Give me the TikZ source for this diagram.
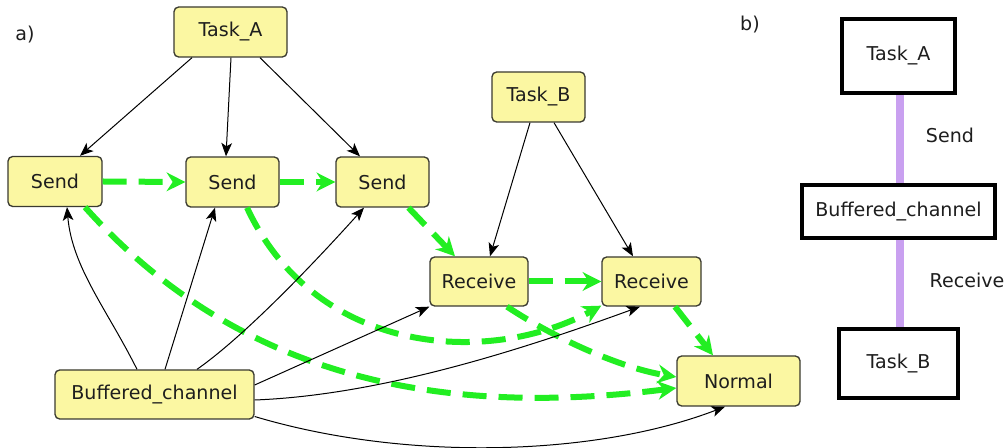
\documentclass[tikz,border=0pt]{standalone}
\usepackage{fontspec}
\setmainfont{DejaVu Sans}
\usetikzlibrary{arrows.meta,calc}
\definecolor{boxfill}{HTML}{FBF7A2}
\definecolor{boxline}{HTML}{3A3A30}
\definecolor{flow}{HTML}{22EE22}
\definecolor{lavline}{HTML}{C9A0F0}
\definecolor{txt}{HTML}{1E1E1E}
\begin{document}
\begin{tikzpicture}[x=0.75pt,y=-0.75pt,
  every node/.style={font=\fontsize{14.3}{17}\selectfont, text=txt},
  ybox/.style={draw=boxline, fill=boxfill, line width=1pt, rounded corners=3.5pt, inner sep=0pt},
  wbox/.style={draw=black, fill=white, line width=3pt, inner sep=0pt},
  blk/.style={draw=black, line width=0.75pt, -{Stealth[length=10pt,width=8pt,inset=2.5pt]}},
  grn/.style={draw=flow, line width=4.5pt, dash pattern=on 18pt off 9pt, -{Stealth[length=14pt,width=14pt,inset=4.5pt]}},
  purpleline/.style={draw=lavline, line width=6.5pt}]
\useasboundingbox (0,0) rectangle (1004,448);
% labels
\node (la) at (25,35) {a)};
\node (lb) at (750,25) {b)};
% panel a nodes
\node[ybox, minimum width=84.75pt, minimum height=37.5pt] (ta) at (230.5,32) {Task\_A};
\node[ybox, minimum width=70.5pt, minimum height=37.5pt] (s1) at (55,181.5) {Send};
\node[ybox, minimum width=69.75pt, minimum height=37.5pt] (s2) at (232.5,182) {Send};
\node[ybox, minimum width=69.75pt, minimum height=37.5pt] (s3) at (382.5,182) {Send};
\node[ybox, minimum width=69.75pt, minimum height=37.5pt] (tb) at (538.5,97) {Task\_B};
\node[ybox, minimum width=73.5pt, minimum height=36.75pt] (r1) at (479,281.5) {Receive};
\node[ybox, minimum width=74.25pt, minimum height=36.75pt] (r2) at (651.5,281.5) {Receive};
\node[ybox, minimum width=92.25pt, minimum height=37.5pt] (nm) at (738.5,381) {Normal};
\node[ybox, minimum width=149.25pt, minimum height=36.75pt] (bc) at (154.5,394.5) {Buffered\_channel};
% green flow
\draw[grn] (s1.east) -- (s2.west);
\draw[grn] (s2.east) -- (s3.west);
\draw[grn] ($(s3.south)+(26,0)$) -- ($(r1.north)+(-24,0)$);
\draw[grn] ($(s1.south)+(30,0)$) .. controls +(170,190) and +(-200,25) .. ($(nm.west)+(0,7)$);
\draw[grn] ($(s2.south)+(14.5,0)$) .. controls +(70,150) and +(-110,60) .. ($(r2.south west)+(0,-1)$);
\draw[grn] (r1.east) -- (r2.west);
\draw[grn] ($(r1.south)+(28,0)$) .. controls +(50,33) and +(-55,-9) .. ($(nm.west)+(0,-4)$);
\draw[grn] ($(r2.south)+(23.5,0)$) -- ($(nm.north)+(-25.5,0)$);
% black
\draw[blk] ($(ta.south)+(-38.5,0)$) -- ($(s1.north)+(25,0)$);
\draw[blk] ($(ta.south)+(0.5,0)$) -- ($(s2.north)+(-6.5,0)$);
\draw[blk] ($(ta.south)+(29.5,0)$) -- ($(s3.north)+(-22.5,0)$);
\draw[blk] ($(tb.south)+(-8.5,0)$) -- ($(r1.north)+(11,0)$);
\draw[blk] ($(tb.south)+(15.5,0)$) -- ($(r2.north)+(-18.5,0)$);
\draw[blk] ($(bc.north)+(-17.5,0)$) .. controls +(-30,-60) and +(5,60) .. ($(s1.south)+(12,0)$);
\draw[blk] ($(bc.north)+(10.5,0)$) -- ($(s2.south)+(-17.5,0)$);
\draw[blk] ($(bc.north)+(42.5,0)$) .. controls +(50,-35) and +(-45,50) .. ($(s3.south)+(-18.5,0)$);
\draw[blk] ($(bc.east)+(0,-9.5)$) -- (r1.south west);
\draw[blk] ($(bc.east)+(0,5.5)$) .. controls +(130,-5) and +(-110,40) .. ($(r2.south)+(-11.5,0)$);
\draw[blk] ($(bc.east)+(0,22)$) .. controls +(150,45) and +(-130,50) .. ($(nm.south)+(-13.5,0)$);
% panel b
\node[wbox, minimum width=84.75pt, minimum height=55.5pt] (ta2) at (898.5,56) {Task\_A};
\node[wbox, minimum width=144.75pt, minimum height=39.75pt] (bc2) at (898.5,211.5) {Buffered\_channel};
\node[wbox, minimum width=89.25pt, minimum height=51.75pt] (tb2) at (898.5,363.5) {Task\_B};
\draw[purpleline] ($(ta2.south)+(1.5,0)$) -- ($(bc2.north)+(1.5,0)$);
\draw[purpleline] ($(bc2.south)+(1.5,0)$) -- ($(tb2.north)+(1.5,0)$);
\node (lsend) at (950,135) {Send};
\node (lrecv) at (967,280) {Receive};
\end{tikzpicture}
\end{document}
